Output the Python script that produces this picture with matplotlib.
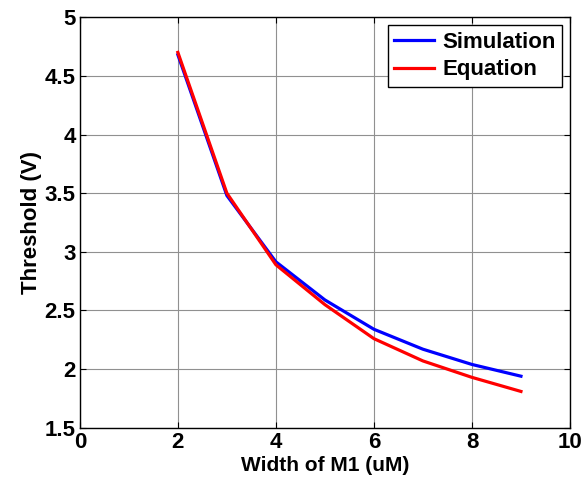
import matplotlib
matplotlib.use('Agg')
import matplotlib.pyplot as plt

plt.rcParams['font.family'] = ['Liberation Sans', 'DejaVu Sans']
plt.rcParams['font.weight'] = 'bold'

width = [2, 3, 4, 5, 6, 7, 8, 9]
simulation = [4.68, 3.48, 2.915, 2.59, 2.34, 2.17, 2.04, 1.94]
equation = [4.70, 3.50, 2.89, 2.55, 2.26, 2.07, 1.93, 1.81]

fig = plt.figure(figsize=(5.87, 4.78), dpi=100)
ax = fig.add_axes([0.136, 0.105, 0.835, 0.859])

ax.plot(width, simulation, color='#0000ff', lw=2.3, label='Simulation')
ax.plot(width, equation, color='#ff0000', lw=2.3, label='Equation')

ax.set_xlim(0, 10)
ax.set_ylim(1.5, 5)
ax.set_xticks([0, 2, 4, 6, 8, 10])
ax.set_yticks([1.5, 2, 2.5, 3, 3.5, 4, 4.5, 5])
ax.set_yticklabels(['1.5', '2', '2.5', '3', '3.5', '4', '4.5', '5'])
ax.grid(True, color='#909090', lw=0.8)
ax.tick_params(direction='in', top=True, right=True, labelsize=16, length=4, pad=3)
for s in ax.spines.values():
    s.set_linewidth(1.0)

ax.set_xlabel('Width of M1 (uM)', fontsize=15, fontweight='bold', labelpad=2)
ax.set_ylabel('Threshold (V)', fontsize=16, fontweight='bold', labelpad=2)

leg = ax.legend(loc='upper right', fontsize=16, fancybox=False, framealpha=1,
                edgecolor='black', handlelength=1.8, borderpad=0.3,
                labelspacing=0.3, handletextpad=0.35, borderaxespad=0.35)
leg.get_frame().set_linewidth(1.0)

fig.savefig('out.png', dpi=100)
